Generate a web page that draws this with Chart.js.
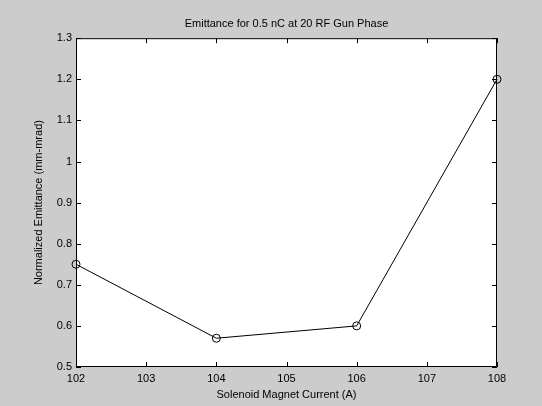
<!DOCTYPE html>
<html>
<head>
<meta charset="utf-8">
<title>Emittance</title>
<script src="https://cdn.jsdelivr.net/npm/chart.js@4/dist/chart.umd.min.js"></script>
<style>
  html, body { margin: 0; padding: 0; background: #cccccc; }
  #wrap { width: 542px; height: 406px; }
</style>
</head>
<body>
<div id="wrap"><canvas id="graficaEmitancia" width="542" height="406"></canvas></div>
<script>
// datos
const corriente = [102, 104, 106, 108];
const emitancia = [0.75, 0.57, 0.6, 1.2];
const xTicks = [102, 103, 104, 105, 106, 107, 108];
const yTicks = [0.5, 0.6, 0.7, 0.8, 0.9, 1, 1.1, 1.2, 1.3];

const fuente = { family: "'Liberation Sans', Arial, Helvetica, sans-serif", size: 11 };

// caja blanca, borde y marcas hacia dentro (estilo matlab)
const cajaPlugin = {
  id: "caja",
  beforeDraw(chart) {
    const { ctx, chartArea: a } = chart;
    ctx.save();
    ctx.fillStyle = "#ffffff";
    ctx.fillRect(a.left, a.top, a.right - a.left, a.bottom - a.top);
    ctx.restore();
  },
  afterDraw(chart) {
    const { ctx, chartArea: a, scales } = chart;
    const len = 5;
    ctx.save();
    ctx.strokeStyle = "#000000";
    ctx.lineWidth = 1;
    ctx.beginPath();
    ctx.rect(a.left + 0.5, a.top + 0.5, a.right - a.left - 1, a.bottom - a.top - 1);
    xTicks.forEach((v) => {
      const px = Math.round(scales.x.getPixelForValue(v)) + 0.5;
      ctx.moveTo(px, a.bottom);
      ctx.lineTo(px, a.bottom - len);
      ctx.moveTo(px, a.top);
      ctx.lineTo(px, a.top + len);
    });
    yTicks.forEach((v) => {
      const py = Math.round(scales.y.getPixelForValue(v)) + 0.5;
      ctx.moveTo(a.left, py);
      ctx.lineTo(a.left + len, py);
      ctx.moveTo(a.right, py);
      ctx.lineTo(a.right - len, py);
    });
    ctx.stroke();
    ctx.restore();
  },
};

const canvas = document.getElementById("graficaEmitancia");
const ctx = canvas.getContext("2d");

window.myChart = new Chart(ctx, {
  type: "line",
  data: {
    datasets: [
      {
        label: "Emittance",
        data: corriente.map((c, i) => ({ x: c, y: emitancia[i] })),
        borderColor: "#000000",
        borderWidth: 1,
        backgroundColor: "rgba(0,0,0,0)",
        pointStyle: "circle",
        pointRadius: 4,
        pointBorderWidth: 1,
        pointBorderColor: "#000000",
        pointBackgroundColor: "rgba(0,0,0,0)",
        tension: 0,
        clip: false,
      },
    ],
  },
  options: {
    responsive: false,
    animation: false,
    devicePixelRatio: 1,
    layout: { padding: { left: 0, right: 45, top: 0, bottom: 0 } },
    plugins: {
      legend: { display: false },
      tooltip: { enabled: false },
      title: {
        display: true,
        fullSize: false,
        text: "Emittance for 0.5 nC at 20 RF Gun Phase",
        color: "#000000",
        font: { ...fuente, weight: "normal" },
        padding: { top: 17, bottom: 8 },
      },
    },
    scales: {
      x: {
        type: "linear",
        min: 102,
        max: 108,
        afterBuildTicks: (scale) => {
          scale.ticks = xTicks.map((v) => ({ value: v }));
        },
        ticks: { color: "#000000", font: fuente, padding: 5, maxRotation: 0 },
        grid: { display: true, drawOnChartArea: false, drawTicks: false },
        border: { display: false },
        title: {
          display: true,
          text: "Solenoid Magnet Current (A)",
          color: "#000000",
          font: fuente,
          padding: { top: 0, bottom: 4 },
        },
        afterFit: (scale) => {
          scale.height = 39;
        },
      },
      y: {
        type: "linear",
        min: 0.5,
        max: 1.3,
        afterBuildTicks: (scale) => {
          scale.ticks = yTicks.map((v) => ({ value: v }));
        },
        ticks: {
          color: "#000000",
          font: fuente,
          padding: 4,
          callback: (v) => String(Number(v.toFixed(1))),
        },
        grid: { display: true, drawOnChartArea: false, drawTicks: false },
        border: { display: false },
        title: {
          display: true,
          text: "Normalized Emittance (mm-mrad)",
          color: "#000000",
          font: fuente,
          padding: { top: 32, bottom: 0 },
        },
        afterFit: (scale) => {
          scale.width = 76;
        },
      },
    },
  },
  plugins: [cajaPlugin],
});
</script>
</body>
</html>
